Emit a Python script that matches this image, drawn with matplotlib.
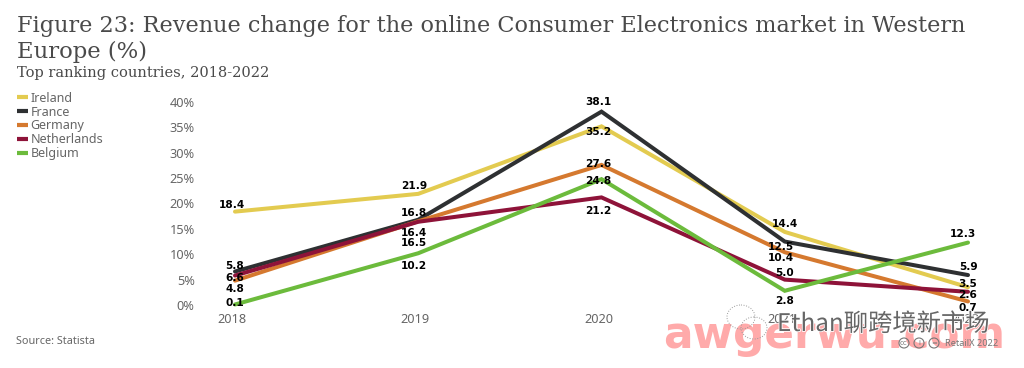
import matplotlib
matplotlib.use("Agg")
import matplotlib.pyplot as plt
import matplotlib.patheffects as pe
from matplotlib.patches import Circle, Ellipse
from matplotlib.transforms import ScaledTranslation

years = [2018, 2019, 2020, 2021, 2022]
y_ticks = [0, 5, 10, 15, 20, 25, 30, 35, 40]

ireland = [18.4, 21.9, 35.2, 14.4, 3.5]
france = [6.6, 16.8, 38.1, 12.5, 5.9]
germany = [4.8, 16.5, 27.6, 10.4, 0.7]
netherlands = [5.8, 16.4, 21.2, 5.0, 2.6]
belgium = [0.1, 10.2, 24.8, 2.8, 12.3]

# label offsets in points, hand placed like in the original
off_ireland = [(-2, 5), (-3, 6), (-2, -4), (0, 6), (0, 2)]
off_france = [(0, -5), (-3, 5), (-2, 7), (-3, -4), (0, 6)]
off_germany = [(0, -6), (-3, -16), (-2, 1), (-3, -4), (0, -5)]
off_netherlands = [(0, 7), (-3, -8), (-2, -10), (0, 5), (0, -2)]
off_belgium = [(0, 1), (-3, -9), (-2, -1), (0, -7), (-4, 6)]

series = [
    ("Ireland", ireland, "#E3CB50", off_ireland),
    ("France", france, "#2E3032", off_france),
    ("Germany", germany, "#D5792F", off_germany),
    ("Netherlands", netherlands, "#8E1339", off_netherlands),
    ("Belgium", belgium, "#6CBB3C", off_belgium),
]

W, H = 1024, 368
fig = plt.figure(figsize=(W / 100, H / 100), dpi=100)
ax = fig.add_axes([235 / W, (H - 305) / H, 733 / W, 203 / H])
ax.set_xlim(2018, 2022)
ax.set_ylim(0, 40)
for s in ax.spines.values():
    s.set_visible(False)
ax.set_xticks(years)
ax.set_yticks(y_ticks)
ax.set_yticklabels([f"{v}%" for v in y_ticks])
ax.tick_params(length=0, labelsize=9.2, labelcolor="#666666")
ax.tick_params(axis="x", pad=6)
ax.tick_params(axis="y", pad=29)
shift = ScaledTranslation(-3 / 100, 0, fig.dpi_scale_trans)
for t in ax.get_xticklabels() + ax.get_yticklabels():
    t.set_family("Noto Sans")
for t in ax.get_xticklabels():
    t.set_transform(t.get_transform() + shift)
ax.patch.set_alpha(0)

for name, vals, col, offs in series:
    ax.plot(years, vals, color=col, lw=2.9, label=name, clip_on=False, solid_capstyle="round", solid_joinstyle="miter")

for name, vals, col, offs in series:
    for x, v, o in zip(years, vals, offs):
        ax.annotate(f"{v:.1f}", (x, v), xytext=o, textcoords="offset points", ha="center", va="center",
                    fontsize=7.6, fontweight="bold", color="black", family="DejaVu Sans", zorder=5, annotation_clip=False)

fig.text(17 / W, 1 - 32 / H, "Figure 23: Revenue change for the online Consumer Electronics market in Western",
         family="DejaVu Serif", fontsize=16.1, color="#4A4A4A", va="baseline")
fig.text(17 / W, 1 - 58 / H, "Europe (%)", family="DejaVu Serif", fontsize=16.4, color="#4A4A4A", va="baseline")
fig.text(17 / W, 1 - 77 / H, "Top ranking countries, 2018-2022", family="DejaVu Serif", fontsize=10.5, color="#4A4A4A", va="baseline")
fig.text(16 / W, 1 - 344 / H, "Source: Statista", family="Noto Sans", fontsize=7.8, color="#666666", va="baseline")

handles, labels = ax.get_legend_handles_labels()
leg = fig.legend(handles, labels, loc="upper left", bbox_to_anchor=(13 / W, 1 - 88 / H), frameon=False,
                 prop={"family": "Noto Sans", "size": 9}, labelcolor="#666666", handlelength=0.9,
                 handletextpad=0.2, labelspacing=0.07, borderpad=0.3, borderaxespad=0)
for line in leg.get_lines():
    line.set_linewidth(3)
    line.set_solid_capstyle("butt")

# watermarks over the chart
fig.text(663 / W, 1 - 348 / H, "awgerwu.com", family="DejaVu Sans", fontweight="bold", fontsize=31.5,
         color="#FFAAAA", va="baseline", zorder=10)
fig.text(777 / W, 1 - 331 / H, "Ethan聊跨境新市场", family=["Noto Sans CJK SC", "DejaVu Sans"], fontsize=17.5,
         color="#666666", va="baseline", zorder=11,
         path_effects=[pe.withStroke(linewidth=1.2, foreground="white")])
fig.text(945 / W, 1 - 346 / H, "RetailX 2022", family="Noto Sans", fontsize=6.6, color="#777777", va="baseline", zorder=11)

overlay = fig.add_axes([0, 0, 1, 1], zorder=12)
overlay.set_xlim(0, W)
overlay.set_ylim(H, 0)
overlay.axis("off")
overlay.add_patch(Ellipse((741, 317), 28, 24, fill=False, ec="#999999", lw=0.7, ls=":"))
overlay.add_patch(Ellipse((754, 328), 26, 22, fill=False, ec="#999999", lw=0.7, ls=":"))
for cx, s in zip([904, 919, 934], ["cc", "i", "="]):
    overlay.add_patch(Circle((cx, 343), 5, fill=False, ec="#777777", lw=0.8))
    overlay.text(cx, 343, s, fontsize=5, color="#777777", ha="center", va="center")

fig.savefig("out.png", dpi=100)
